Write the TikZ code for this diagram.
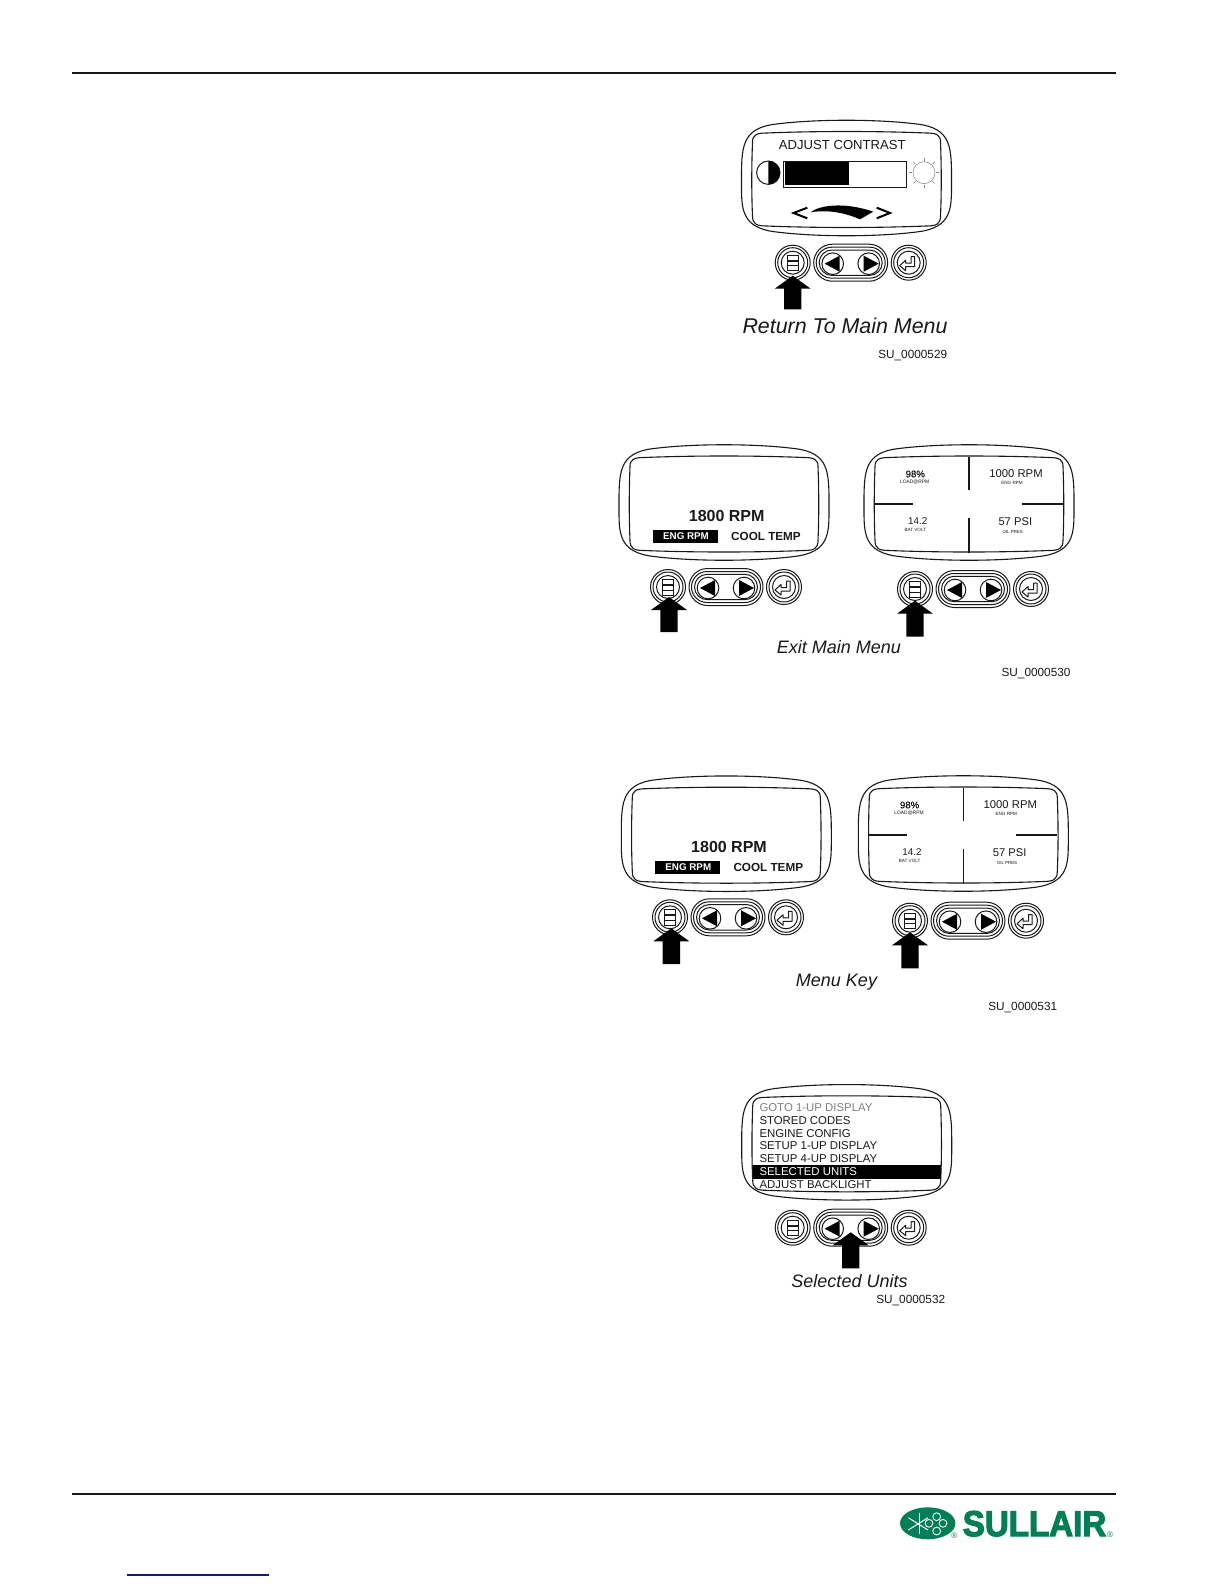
\documentclass[tikz,border=0pt]{standalone}
\usepackage{xcolor}
\usepackage{fontspec}
\setmainfont{Liberation Sans}
\newfontfamily\logofont[FakeBold=3.2]{Liberation Sans Bold}
\newfontfamily\midfont[FakeBold=0.5]{Liberation Sans}
\usetikzlibrary{positioning}
\definecolor{SUGreen}{RGB}{0,128,84}
\definecolor{SUBlue}{RGB}{20,20,140}
\definecolor{SUInk}{RGB}{25,25,25}
\newcommand{\fsz}[1]{\fontsize{#1}{#1}\selectfont}

\begin{document}
\begin{tikzpicture}[
    x=1pt, y=-1pt,
    shell/.style={draw=SUInk, line width=1.1pt},
    ring/.style={draw=SUInk, line width=1pt},
    caption/.style={font=\fsz{18}\itshape, text=SUInk, inner sep=0pt},
    figno/.style={font=\fsz{11.8}, text=SUInk, inner sep=0pt},
    lbl/.style={text=SUInk, inner sep=0pt},
    menuline/.style={font=\fsz{11.4}, text=SUInk, inner sep=0pt, anchor=west},
    pics/housing/.style={code={
      \draw[shell] (-105,5) .. controls (-105,-30) and (-106,-50) .. (-70,-54)
        .. controls (-30,-59) and (30,-59) .. (70,-54)
        .. controls (106,-50) and (105,-30) .. (105,5)
        .. controls (105,30) and (106,50) .. (70,54)
        .. controls (30,59) and (-30,59) .. (-70,54)
        .. controls (-106,50) and (-105,30) .. (-105,5) -- cycle;
      \draw[shell] (-94,-36) .. controls (-94,-43) and (-90,-45) .. (-80,-45)
        .. controls (-30,-47) and (30,-47) .. (80,-45)
        .. controls (90,-45) and (94,-43) .. (94,-36)
        .. controls (95,-10) and (95,15) .. (94,38)
        .. controls (94,46) and (90,48) .. (80,48)
        .. controls (30,50) and (-30,50) .. (-80,48)
        .. controls (-90,48) and (-94,46) .. (-94,38)
        .. controls (-95,15) and (-95,-10) .. (-94,-36) -- cycle;
    }},
    pics/keypad/.style={code={
      % Menu key
      \foreach \r in {17.5,15,11.5} \draw[ring] (0,0) circle[radius=\r];
      \draw[ring] (-5.5,-7.7) rectangle (5.5,-2.7);
      \draw[ring] (-5.5,-1.7) rectangle (5.5,8);
      \draw[ring] (-5.5,3) -- (5.5,3);
      % Arrow keys
      \foreach \w/\h in {37/18.5,34.5/15.5,31.5/12.7}
        \draw[ring, rounded corners=\h pt] (58-\w,-\h) rectangle (58+\w,\h);
      \draw[fill=white, ring] (40,1) circle[radius=10.8];
      \draw[fill=white, ring] (76,1) circle[radius=10.8];
      \fill[black] (32,1) -- (47,-7) -- (47,9) -- cycle;
      \fill[black] (86,1) -- (71,-7) -- (71,9) -- cycle;
      % Enter key
      \foreach \r in {17.5,15,11.5} \draw[ring] (116,0) circle[radius=\r];
      \draw[ring, line join=round] (107,3) -- (113,-2.5) -- (113,0.5) -- (118.5,0.5)
        -- (118.5,-6) -- (122,-6) -- (122,4) -- (113,4) -- (113,8) -- cycle;
    }},
    pics/pushhere/.style={code={
      \fill[black] (0,0) -- (18,13) -- (8.7,13) -- (8.7,#1) -- (-8.7,#1) -- (-8.7,13) -- (-18,13) -- cycle;
    }},
    pics/onerpm/.style={code={
      \node[lbl, font=\fsz{16}\bfseries] (speed) at (2.7,13.2) {1800 RPM};
      \fill[black] (-71.3,27.2) rectangle (-6,40.5);
      \node[lbl, text=white, font=\fsz{9.8}\bfseries] (engrpm) at (-38,33.2) {ENG RPM};
      \node[lbl, font=\fsz{11.7}\bfseries] (cooltemp) at (42,33.7) {COOL TEMP};
    }},
    pics/fourup/.style={code={
      \draw[shell] (0,-46) -- (0,-13);
      \draw[shell] (0,15.2) -- (0,50);
      \draw[shell] (-94,1.5) -- (-56.3,1.5);
      \draw[shell] (53,1.5) -- (94,1.5);
      \node[lbl, font=\fsz{9.6}\midfont] (load) at (-53.7,-28.5) {98\%};
      \node[lbl, font=\fsz{4.9}] (loadcap) at (-54.3,-20.4) {LOAD@RPM};
      \node[lbl, font=\fsz{11.3}] (rpm) at (47,-28.5) {1000 RPM};
      \node[lbl, font=\fsz{4.6}] (rpmcap) at (43,-20) {ENG RPM};
      \node[lbl, font=\fsz{9.8}] (volt) at (-51.3,19) {14.2};
      \node[lbl, font=\fsz{4.6}] (voltcap) at (-53.7,27) {BAT VOLT};
      \node[lbl, font=\fsz{11.2}] (psi) at (46.3,18.8) {57 PSI};
      \node[lbl, font=\fsz{4.4}] (psicap) at (43.7,29.3) {OIL PRES};
    }}
  ]
  \useasboundingbox (0,0) rectangle (1224,1584);
  \fill[white] (0,0) rectangle (1224,1584);

  % Page rules
  \draw[SUInk, line width=2pt] (72,72.7) -- (1116,72.7);
  \draw[SUInk, line width=2pt] (72,1494) -- (1116,1494);
  \draw[SUBlue, line width=1.2pt] (127,1575) -- (269,1575);

  % Contrast panel
  \pic at (846.5,178) {housing};
  \pic at (792.7,262.7) {keypad};
  \pic at (792.7,275.7) {pushhere=33.6};
  \node[lbl, font=\fsz{13.1}] (contrast) at (842.3,145.2) {ADJUST CONTRAST};
  \draw[ring] (768.3,172.7) circle[radius=11.7];
  \fill[black] (768.3,161) arc[start angle=-90, end angle=90, radius=11.7] -- cycle;
  \draw[ring] (783.3,161) rectangle (906.7,187.3);
  \fill[black] (785.3,161.7) rectangle (849,185);
  \draw[gray, line width=0.5pt] (924,172.7) circle[radius=11];
  \foreach \a in {0,45,...,315}
    \draw[gray, line width=0.5pt] (924,172.7) ++(\a:12) -- ++(\a:3);
  \draw[black, line width=2pt] (807.3,207.7) -- (793.5,213) -- (807.3,218.3);
  \draw[black, line width=2pt] (876.7,207.7) -- (890,213) -- (876.7,218.3);
  \fill[black] (810.7,212.3) .. controls (818,206) and (842,201) .. (873.3,211.7)
    -- (860,219.3) .. controls (848,214) and (830,209) .. (810.7,212.3) -- cycle;
  \node[caption, font=\fsz{21.4}\itshape] (returncap) at (845,326) {Return To Main Menu};
  \node[figno] (fig529) at (912.7,356) {SU\_0000529};

  % Exit panels
  \pic at (724,502.5) {housing};
  \pic at (724,502.5) {onerpm};
  \pic at (668,587) {keypad};
  \pic at (669,597) {pushhere=35};
  \pic at (969,502.5) {housing};
  \pic at (969,502.5) {fourup};
  \pic at (915,589) {keypad};
  \pic at (915,600.7) {pushhere=36};
  \node[caption] (exitcap) at (839,646.7) {Exit Main Menu};
  \node[figno] (fig530) at (1036,673.5) {SU\_0000530};

  % Menu key panels
  \pic at (726.3,833.7) {housing};
  \pic at (726.3,833.7) {onerpm};
  \pic at (670,917.3) {keypad};
  \pic at (671.3,928.3) {pushhere=35.7};
  \pic at (963.3,833.5) {housing};
  \pic at (963.3,833.5) {fourup};
  \pic at (910,920.7) {keypad};
  \pic at (910,932.3) {pushhere=36};
  \node[caption] (menucap) at (836.5,982) {Menu Key};
  \node[figno] (fig531) at (1022.7,1008) {SU\_0000531};

  % Units panel
  \pic at (846.7,1142.3) {housing};
  \fill[black] (753,1165) rectangle (940.7,1179);
  \node[menuline, text=gray] (goto) at (759.3,1107.7) {GOTO 1-UP DISPLAY};
  \foreach \y/\lbl in {1121/STORED CODES, 1133.7/ENGINE CONFIG, 1146/SETUP 1-UP DISPLAY,
      1158.7/SETUP 4-UP DISPLAY, 1184.7/ADJUST BACKLIGHT}{
    \node[menuline] (item\y) at (759.3,\y) {\lbl};
  }
  \node[menuline, text=white] (units) at (759.3,1172) {SELECTED UNITS};
  \pic at (792.7,1227.7) {keypad};
  \pic at (850.7,1232.3) {pushhere=36};
  \node[caption] (unitscap) at (849.5,1280.7) {Selected Units};
  \node[figno] (fig532) at (910.7,1300.5) {SU\_0000532};

  % Logo
  \fill[SUGreen] (927.7,1523.3) ellipse[x radius=27.7, y radius=16];
  \draw[white, line width=1pt] (908.3,1517.7) -- (928,1530);
  \draw[white, line width=1pt] (908.3,1530) -- (928,1517.7);
  \draw[white, line width=1pt] (919.3,1512.7) -- (919.3,1534);
  \foreach \cx/\cy in {929/1523.3,943/1523.3,936.7/1516.7,936.7/1531}
    \draw[white, line width=0.9pt, fill=SUGreen] (\cx,\cy) circle[radius=3.9];
  \node[text=SUGreen, inner sep=0pt, xscale=0.92, font=\fsz{36}\logofont] (brand) at (1034.5,1523.7) {SULLAIR};
  \node[text=SUGreen, inner sep=0pt, font=\fsz{8}] (markA) at (954.3,1535.7) {®};
  \node[text=SUGreen, inner sep=0pt, font=\fsz{8}] (markB) at (1110,1535) {®};
\end{tikzpicture}
\end{document}
